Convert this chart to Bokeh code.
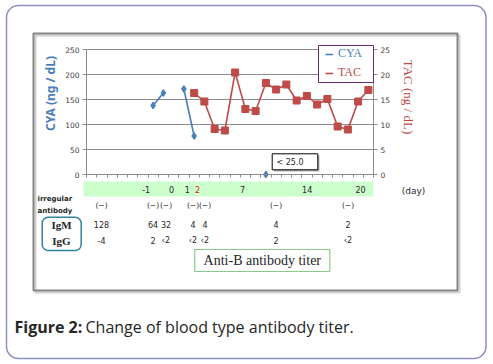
import math
from bokeh.plotting import figure
from bokeh.models import (Range1d, LinearAxis, FixedTicker, BoxAnnotation, Label,
                          Legend, LegendItem)
from bokeh.embed import file_html
from bokeh.resources import INLINE

nan = float("nan")

# ---------------- data ----------------
# sample index (category slot on the x axis) and values
cya_x = [6, 7, 8, 9, 10, 11, 17]
cya_y = [138, 163, nan, 171, 77, nan, 0]          # ng/dL, gaps break the line
tac_x = [10, 11, 12, 13, 14, 15, 16, 17, 18, 19, 20, 21, 22, 23, 24, 25, 26, 27]
tac_y = [16.3, 14.6, 9.1, 8.8, 20.4, 13.1, 12.7, 18.3, 17.0, 18.0, 14.8, 15.7,
         14.0, 15.1, 9.6, 9.0, 14.6, 16.9]        # ng/dL
cya_ticks = [0, 50, 100, 150, 200, 250]
tac_ticks = [0, 5, 10, 15, 20, 25]
day_labels = ["-1", "0", "1", "2", "7", "14", "20"]
day_colors = ["#262626", "#262626", "#262626", "#e02020", "#262626", "#262626", "#262626"]
irregular = ["(−)", "(−)", "(−)", "(−)", "(−)", "(−)", "(−)"]
igm = ["128", "64", "32", "4", "4", "4", "2"]
igg = ["-4", "2", "‹2", "‹2", "‹2", "2", "‹2"]

# ---------------- layout (page pixel positions) ----------------
W, H = 493, 364
FL, FR, FT, FB = 86, 373, 49, 174      # plot area in page pixels
N_SLOTS = 28
day_x = [145.7, 171, 186.7, 197, 242, 306.7, 360]
col_x = [101, 152.5, 165.5, 192.5, 204.5, 275.5, 347.5]

BLUE = "#4a7ebb"
RED = "#be4b48"
GRID = "#8c8c8c"
TXT = "#262626"

# data <-> pixel scale so that the chart's plot area sits at FL..FR, FT..FB
kx = (FR - FL) / N_SLOTS
x0 = -0.5 - FL / kx
x1 = N_SLOTS - 0.5 + (W - FR) / kx
ky = (FB - FT) / 250
y0 = -(H - FB) / ky
y1 = 250 + FT / ky
ky2 = (FB - FT) / 25
t0 = -(H - FB) / ky2
t1 = 25 + FT / ky2
XA, XB = -0.5, N_SLOTS - 0.5


def fx(x):
    return x


def fy(y):
    return H - y


p = figure(width=W, height=H, output_backend="svg", toolbar_location=None,
           x_range=Range1d(x0, x1), y_range=Range1d(y0, y1),
           min_border=0, min_border_left=0, min_border_right=0,
           min_border_top=0, min_border_bottom=0)
p.outline_line_color = None
p.background_fill_color = "white"
p.border_fill_color = "white"
p.extra_y_ranges = {"tac": Range1d(t0, t1)}


def style_axis(ax):
    ax.axis_line_color = GRID
    ax.major_tick_line_color = GRID
    ax.minor_tick_line_color = None
    ax.major_tick_out = 4
    ax.major_tick_in = 0
    ax.major_label_text_font = "DejaVu Sans"
    ax.major_label_text_font_size = "7.5px"
    ax.major_label_text_color = "#404040"
    ax.major_label_standoff = 3


lax = p.yaxis[0]
lax.ticker = FixedTicker(ticks=cya_ticks)
lax.fixed_location = XA
lax.bounds = (0, 250)
style_axis(lax)

rax = LinearAxis(y_range_name="tac", ticker=FixedTicker(ticks=tac_ticks),
                 fixed_location=XB, bounds=(0, 25))
style_axis(rax)
p.add_layout(rax, "right")

xt = [k - 0.5 for k in range(N_SLOTS + 1)]
bax = p.xaxis[0]
bax.ticker = FixedTicker(ticks=xt)
bax.fixed_location = 0
bax.bounds = (XA, XB)
style_axis(bax)
bax.major_tick_out = 3
bax.major_label_overrides = {t: "" for t in xt}

p.xgrid.visible = False
p.ygrid.visible = False

# ---------------- frames / boxes ----------------

def box(l, t, r, b, level="underlay", **kw):
    kw.setdefault("line_alpha", 1.0)
    kw.setdefault("fill_alpha", 0.0)
    return BoxAnnotation(left=fx(l), right=fx(r), top=fy(t), bottom=fy(b),
                         left_units="screen", right_units="screen",
                         top_units="screen", bottom_units="screen",
                         level=level, **kw)


p.add_layout(box(6, 5, 485.5, 358, line_color="#8d8dc6", line_width=1.5,
                 border_radius=12))
p.add_layout(box(35, 35, 459, 292, line_color="#d0d0d0", line_width=2))
p.add_layout(box(33, 33, 457, 290, line_color="#858585", line_width=2))
p.add_layout(box(83, 181, 373, 196, fill_color="#ccffcc", fill_alpha=1, line_alpha=0))

# horizontal gridlines across the plot area only
grid_vals = cya_ticks[1:]
p.multi_line(xs=[[XA, XB] for _ in grid_vals], ys=[[v, v] for v in grid_vals],
             line_color=GRID, line_width=1)

# ---------------- series ----------------
cya_line = p.line(cya_x, cya_y, line_color=BLUE, line_width=1.6)
p.scatter(cya_x, cya_y, marker="diamond", size=7, fill_color=BLUE, line_color=BLUE)
tac_line = p.line(tac_x, tac_y, line_color=RED, line_width=1.6, y_range_name="tac")
p.scatter(tac_x, tac_y, marker="square", size=7, fill_color=RED, line_color=RED,
          y_range_name="tac")

# legend box + two legends (different text colours)
p.add_layout(box(318, 45, 373, 82, level="annotation", fill_color="white", fill_alpha=1,
                 line_color="#6a2c6a", line_width=1))
for lbl, rend, col, cy in (("CYA", cya_line, BLUE, 54.3), ("TAC", tac_line, RED, 73.3)):
    lg = Legend(items=[LegendItem(label=lbl, renderers=[rend])],
                location=(fx(325), fy(cy + 7)),
                border_line_color=None, background_fill_alpha=0,
                padding=0, margin=0, spacing=0,
                glyph_width=8, glyph_height=14, label_height=14, label_standoff=5,
                label_text_font="Liberation Serif", label_text_font_size="12px",
                label_text_color=col)
    p.add_layout(lg)

# "< 25.0" callout
p.add_layout(box(273.5, 155, 319, 171, level="annotation", fill_color="#b0b0b0",
                 fill_alpha=1, line_alpha=0))
p.add_layout(box(271.7, 153.3, 317.3, 169.3, level="annotation", fill_color="white",
                 fill_alpha=1, line_color="black", line_width=1))

# IgM / IgG rounded box and Anti-B box
p.add_layout(box(41.7, 216.7, 80.7, 250, line_color="#31849b", line_width=1.5,
                 border_radius=6))
p.add_layout(box(194.3, 249, 329.3, 271, line_color="#8cc98c", line_width=1.2))

# ---------------- texts ----------------

def lab(text, x, y, size, color=TXT, font="DejaVu Sans", style="normal",
        align="center", angle=0.0, baseline="middle"):
    p.add_layout(Label(x=fx(x), y=fy(y), x_units="screen", y_units="screen",
                       text=text, text_font_size=f"{size}px", text_color=color,
                       text_font=font, text_font_style=style, text_align=align,
                       text_baseline=baseline, angle=angle))


lab("CYA (ng / dL)", 50, 93, 12, color=BLUE, font="Noto Sans", style="bold",
    angle=math.pi / 2)
lab("TAC (ng / dL)", 408, 96.5, 13, color=RED, font="Liberation Serif",
    angle=-math.pi / 2)
lab("< 25.0", 276, 161.5, 8, align="left")

for t, x, c in zip(day_labels, day_x, day_colors):
    lab(t, x, 189, 8, color=c)
lab("(day)", 413, 190.5, 9)

lab("irregular", 37, 198, 7, style="bold", align="left")
lab("antibody", 37, 210, 7, style="bold", align="left")
for t, x in zip(irregular, col_x):
    lab(t, x, 205, 7.5)
for t, x in zip(igm, col_x):
    lab(t, x, 224, 8)
for t, x in zip(igg, col_x):
    lab(t, x, 240, 8)
lab("IgM", 61, 224, 11, font="Liberation Serif", style="bold")
lab("IgG", 61, 240, 11, font="Liberation Serif", style="bold")
lab("Anti-B antibody titer", 261.8, 260, 14, font="Liberation Serif")

lab("Figure 2:", 14, 326.5, 16, font="Open Sans", style="bold", align="left",
    baseline="alphabetic")
lab("Change of blood type antibody titer.", 85, 326.5, 16, font="Open Sans",
    align="left", baseline="alphabetic")

open("out.html", "w").write(file_html(p, INLINE))
